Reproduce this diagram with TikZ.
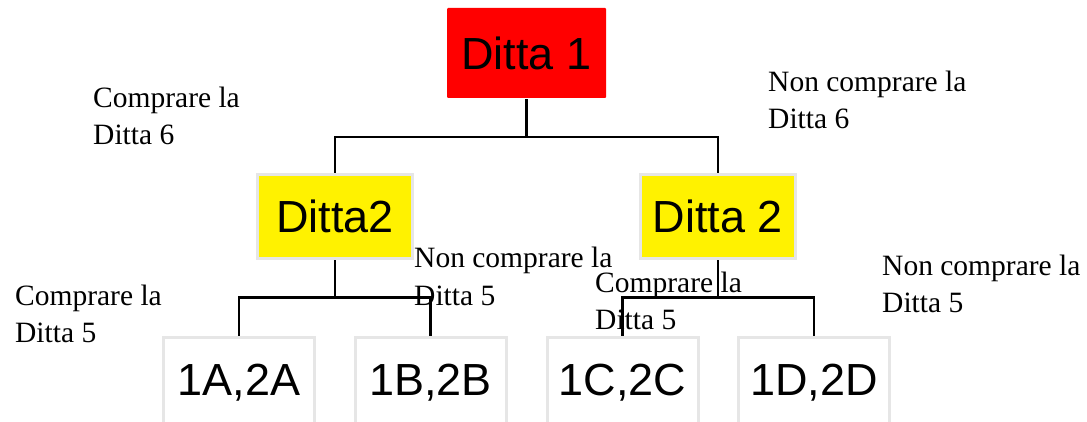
\documentclass[tikz,border=0pt]{standalone}
\usepackage{fontspec}
\setmainfont{Liberation Serif}
\newfontfamily\boxfont{Liberation Sans}
\definecolor{boxgray}{RGB}{230,230,230}

\begin{document}
\begin{tikzpicture}[x=1pt, y=-1pt,
    firm/.style={font=\boxfont\fontsize{45}{54}\selectfont, inner sep=0pt, text depth=0pt, line width=3pt},
    outcome/.style={firm, fill=white, draw=boxgray, minimum width=151pt, minimum height=93pt, text depth=8pt},
    choice/.style={font=\fontsize{29.5}{37}\selectfont, align=left, anchor=base west, inner sep=0pt},
    branch/.style={line width=2.5pt}]
    \useasboundingbox (0,0) rectangle (1087,422);
    % decision boxes
    \node[firm, fill=red, minimum width=159pt, minimum height=90pt, rounded corners=1pt] (d1) at (526.5,53) {Ditta 1};
    \node[firm, fill=yellow, draw=boxgray, minimum width=155pt, minimum height=84pt] (d2a) at (335,216.5) {Ditta2};
    \node[firm, fill=yellow, draw=boxgray, minimum width=155pt, minimum height=84pt] (d2b) at (718,216.5) {Ditta 2};
    % outcomes
    \node[outcome] (ab) at (239,384) {1A,2A};
    \node[outcome] (bb) at (430.5,384) {1B,2B};
    \node[outcome] (cc) at (622.5,384) {1C,2C};
    \node[outcome] (dd) at (814,384) {1D,2D};
    % choice labels (anchored on the second line)
    \node[choice] (buy6) at (93,145) {Comprare la\\Ditta 6};
    \node[choice] (nobuy6) at (768,129) {Non comprare la\\Ditta 6};
    \node[choice] (buy5a) at (15,342) {Comprare la\\Ditta 5};
    \node[choice] (nobuy5a) at (414,305) {Non comprare la\\Ditta 5};
    \node[choice] (buy5b) at (595,329) {Comprare la\\Ditta 5};
    \node[choice] (nobuy5b) at (882,312) {Non comprare la\\Ditta 5};
    % tree lines
    \draw[branch] (d1.south) -- ++(0,37.5) -| (d2a.north);
    \draw[branch] (d1.south) -- ++(0,37.5) -| (d2b.north);
    \draw[branch] (d2a.south) -- ++(0,37.5) -| (ab.north);
    \draw[branch] (d2a.south) -- ++(0,37.5) -| (bb.north);
    \draw[branch] (d2b.south) -- ++(0,37.5) -| (cc.north);
    \draw[branch] (d2b.south) -- ++(0,37.5) -| (dd.north);
\end{tikzpicture}
\end{document}
